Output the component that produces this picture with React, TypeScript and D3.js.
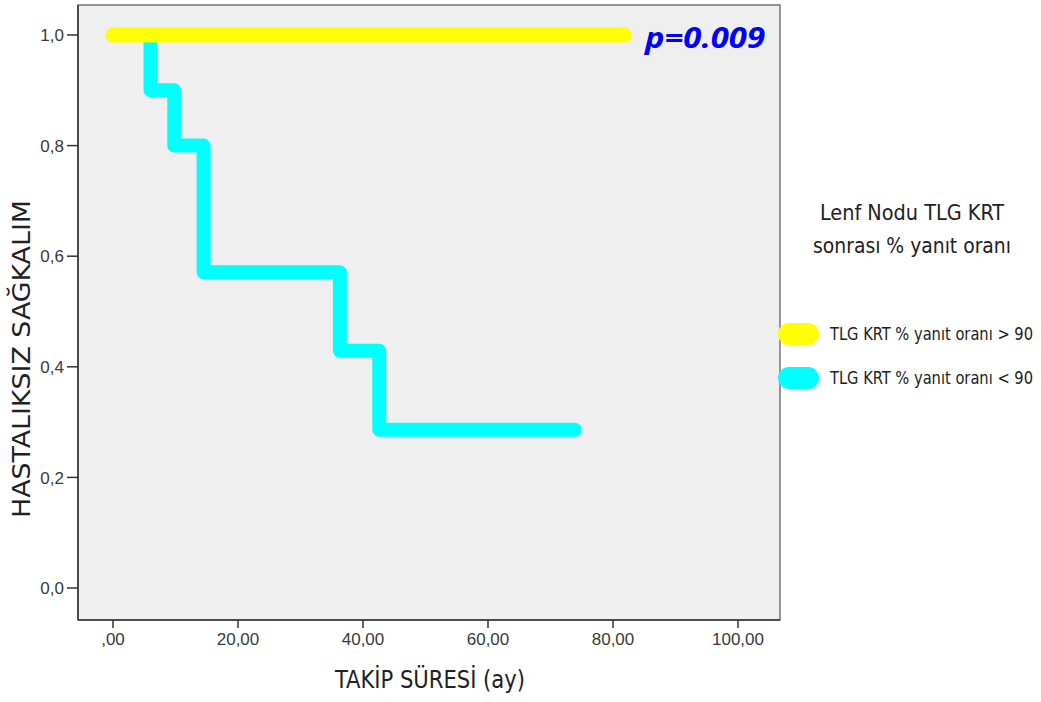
import React from 'react';
import * as d3 from 'd3';

// follow-up time (months) and survival
const highTimes = [0, 81.8];
const highSurv = [1, 1];
const lowTimes = [0, 6.0, 9.8, 14.5, 36.3, 42.6, 73.9];
const lowSurv = [1, 0.9, 0.8, 0.571, 0.429, 0.286, 0.286];

const xTicks = [0, 20, 40, 60, 80, 100];
const xTickLabels = [',00', '20,00', '40,00', '60,00', '80,00', '100,00'];
const yTicks = [0, 0.2, 0.4, 0.6, 0.8, 1.0];
const yTickLabels = ['0,0', '0,2', '0,4', '0,6', '0,8', '1,0'];

const legendTitle = ['Lenf Nodu TLG KRT', 'sonrası % yanıt oranı'];
const legendNames = ['TLG KRT % yanıt oranı > 90', 'TLG KRT % yanıt oranı < 90'];
const colors = ['#ffff00', '#00ffff'];

const condensed = '"Liberation Sans Narrow", "DejaVu Sans Condensed", "DejaVu Sans", sans-serif';
const tickFont = '"Liberation Sans", Arial, sans-serif';

const App = () => {
  const W = 1041;
  const H = 702;
  const frame = { left: 78, top: 5, right: 780, bottom: 620 };

  const x = d3.scaleLinear().domain([0, 100]).range([113, 738]);
  const y = d3.scaleLinear().domain([0, 1]).range([588, 35]);

  const line = d3
    .line<[number, number]>()
    .x(d => x(d[0]))
    .y(d => y(d[1]))
    .curve(d3.curveStepAfter);

  const lowPts = lowTimes.map((t, i) => [t, lowSurv[i]] as [number, number]);
  const highPts = highTimes.map((t, i) => [t, highSurv[i]] as [number, number]);

  return (
    <svg width={W} height={H} style={{ position: 'absolute', left: 0, top: 0, background: '#fff' }}>
      <rect
        x={frame.left}
        y={frame.top}
        width={frame.right - frame.left}
        height={frame.bottom - frame.top}
        fill="#efefef"
        stroke="#777"
        strokeWidth={1.5}
      />
      <line x1={frame.left} x2={frame.left} y1={frame.top} y2={frame.bottom} stroke="#333" strokeWidth={1.5} />
      <line x1={frame.left} x2={frame.right} y1={frame.bottom} y2={frame.bottom} stroke="#333" strokeWidth={1.5} />

      {/* curves: cyan first, yellow on top */}
      <path d={line(lowPts) || ''} fill="none" stroke={colors[1]} strokeWidth={14} strokeLinecap="round" strokeLinejoin="round" />
      <path d={line(highPts) || ''} fill="none" stroke={colors[0]} strokeWidth={15} strokeLinecap="round" strokeLinejoin="round" />

      {/* y axis */}
      {yTicks.map((v, i) => (
        <g key={'y' + i}>
          <line x1={frame.left - 11} x2={frame.left} y1={y(v)} y2={y(v)} stroke="#333" strokeWidth={1.5} />
          <text x={frame.left - 14} y={y(v)} dy="0.36em" textAnchor="end" fontFamily={tickFont} fontSize={17} fill="#3a3a3a">
            {yTickLabels[i]}
          </text>
        </g>
      ))}

      {/* x axis */}
      {xTicks.map((v, i) => (
        <g key={'x' + i}>
          <line x1={x(v)} x2={x(v)} y1={frame.bottom} y2={frame.bottom + 8} stroke="#333" strokeWidth={1.5} />
          <text x={x(v)} y={639} dy="0.36em" textAnchor="middle" fontFamily={tickFont} fontSize={17} fill="#3a3a3a">
            {xTickLabels[i]}
          </text>
        </g>
      ))}

      <text
        x={430}
        y={680}
        dy="0.35em"
        textAnchor="middle"
        fontFamily={condensed}
        fontSize={24}
        fill="#222"
        textLength={190}
        lengthAdjust="spacingAndGlyphs"
      >
        TAKİP SÜRESİ (ay)
      </text>
      <text
        transform="translate(22,359) rotate(-90)"
        dy="0.35em"
        textAnchor="middle"
        fontFamily={condensed}
        fontSize={24}
        fill="#222"
        textLength={318}
        lengthAdjust="spacingAndGlyphs"
      >
        HASTALIKSIZ SAĞKALIM
      </text>

      <text
        x={705}
        y={38}
        dy="0.35em"
        textAnchor="middle"
        fontFamily={'"Open Sans", "DejaVu Sans", sans-serif'}
        fontStyle="italic"
        fontWeight="bold"
        fontSize={29}
        fill="#0000ff"
        textLength={120}
        lengthAdjust="spacingAndGlyphs"
      >
        p=0.009
      </text>

      {/* legend */}
      {legendTitle.map((s, i) => (
        <text
          key={'lt' + i}
          x={912}
          y={212 + i * 33}
          dy="0.35em"
          textAnchor="middle"
          fontFamily={condensed}
          fontSize={22}
          fill="#222"
          textLength={i === 0 ? 184 : 198}
          lengthAdjust="spacingAndGlyphs"
        >
          {s}
        </text>
      ))}
      {legendNames.map((s, i) => (
        <g key={'l' + i} transform={`translate(0,${334 + i * 44})`}>
          <rect x={778} y={-11} width={41} height={22} rx={11} fill={colors[i]} />
          <text
            x={830}
            y={0}
            dy="0.35em"
            fontFamily={condensed}
            fontSize={17}
            fill="#222"
            textLength={203}
            lengthAdjust="spacingAndGlyphs"
          >
            {s}
          </text>
        </g>
      ))}
    </svg>
  );
};

export default App;
